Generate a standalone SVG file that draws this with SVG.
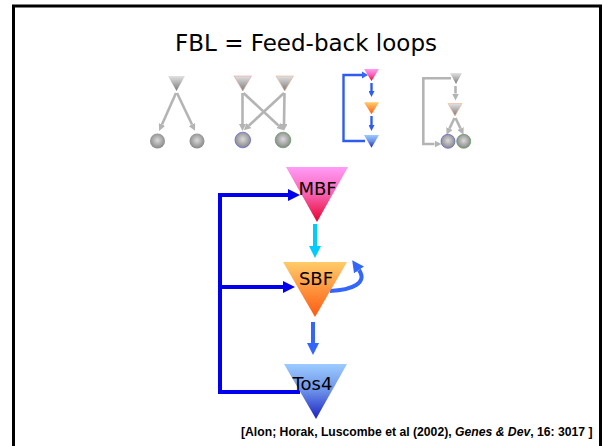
<svg xmlns="http://www.w3.org/2000/svg" width="602" height="446" viewBox="0 0 602 446">
  <style>
    .title { font-family: "DejaVu Sans", Verdana, sans-serif; font-size: 23px; fill: #000; }
    .lbl { font-family: "DejaVu Sans", Verdana, sans-serif; font-size: 18px; fill: #000; text-anchor: middle; }
    .cite { font-family: "Liberation Sans", Arial, sans-serif; font-size: 12.2px; font-weight: bold; fill: #000; }
    .gline { fill: none; stroke: #b4b4b4; stroke-width: 2.6; }
    .bline { fill: none; stroke: #2f5cf0; stroke-width: 2.4; }
    .frame { fill: none; stroke: #000; }
  </style>
  <defs>
    <linearGradient id="gGray" x1="0" y1="0" x2="0" y2="1">
      <stop offset="0" stop-color="#e2e2e2"/>
      <stop offset="1" stop-color="#7a7a7a"/>
    </linearGradient>
    <radialGradient id="gBall" cx="0.5" cy="0.45" r="0.55">
      <stop offset="0" stop-color="#dadada"/>
      <stop offset="1" stop-color="#868686"/>
    </radialGradient>
    <linearGradient id="gPink" x1="0" y1="0" x2="0" y2="1">
      <stop offset="0" stop-color="#ff9cf8"/>
      <stop offset="0.5" stop-color="#f860b0"/>
      <stop offset="1" stop-color="#e8002c"/>
    </linearGradient>
    <linearGradient id="gOrange" x1="0" y1="0" x2="0" y2="1">
      <stop offset="0" stop-color="#ffcc6a"/>
      <stop offset="1" stop-color="#ff5a10"/>
    </linearGradient>
    <linearGradient id="gBlue" x1="0" y1="0" x2="0" y2="1">
      <stop offset="0" stop-color="#9cccff"/>
      <stop offset="0.5" stop-color="#6a8ee8"/>
      <stop offset="1" stop-color="#1a22c0"/>
    </linearGradient>
    <marker id="hGray" viewBox="0 0 10 10" refX="0" refY="5" markerUnits="userSpaceOnUse" markerWidth="7" markerHeight="7" orient="auto">
      <path d="M0,0 L10,5 L0,10 z" fill="#b4b4b4"/>
    </marker>
    <marker id="hSmallBlue" viewBox="0 0 10 10" refX="0" refY="5" markerUnits="userSpaceOnUse" markerWidth="6" markerHeight="6" orient="auto">
      <path d="M0,0 L10,5 L0,10 z" fill="#2f5cf0"/>
    </marker>
    <marker id="hCyan" viewBox="0 0 10 10" refX="0" refY="5" markerUnits="userSpaceOnUse" markerWidth="12" markerHeight="12" orient="auto">
      <path d="M0,0 L10,5 L0,10 z" fill="#00ccff"/>
    </marker>
    <marker id="hMid" viewBox="0 0 10 10" refX="0" refY="5" markerUnits="userSpaceOnUse" markerWidth="12" markerHeight="12" orient="auto">
      <path d="M0,0 L10,5 L0,10 z" fill="#3366ff"/>
    </marker>
    <marker id="hDeep" viewBox="0 0 10 10" refX="0" refY="5" markerUnits="userSpaceOnUse" markerWidth="12" markerHeight="12" orient="auto">
      <path d="M0,0 L10,5 L0,10 z" fill="#0000ee"/>
    </marker>
  </defs>

  <!-- slide frame -->
  <path class="frame" d="M13.5,446 V6 H600.5 V446" stroke-width="3"/>

  <text class="title" x="175" y="51">FBL = Feed-back loops</text>

  <!-- small motif sketches -->
  <g id="motif-sim">
    <line class="gline" x1="176" y1="93" x2="162" y2="124.5" marker-end="url(#hGray)"/>
    <line class="gline" x1="177" y1="93" x2="192" y2="124.5" marker-end="url(#hGray)"/>
    <polygon points="168,76 185,76 176.5,91" fill="url(#gGray)"/>
    <circle cx="157.5" cy="141" r="7.5" fill="url(#gBall)"/>
    <circle cx="197" cy="141" r="7.5" fill="url(#gBall)"/>
  </g>

  <g id="motif-dor">
    <line class="gline" x1="242.5" y1="93" x2="242.5" y2="124" marker-end="url(#hGray)"/>
    <line class="gline" x1="284.5" y1="93" x2="284" y2="124" marker-end="url(#hGray)"/>
    <line class="gline" x1="243.5" y1="93" x2="278.5" y2="125.5" marker-end="url(#hGray)"/>
    <line class="gline" x1="284" y1="93" x2="249" y2="125.5" marker-end="url(#hGray)"/>
    <polygon points="234,76 251.5,76 242.8,91" fill="url(#gGray)" stroke="#e8a0a0" stroke-width="0.6"/>
    <polygon points="276,76 293.5,76 284.7,91" fill="url(#gGray)" stroke="#e8b090" stroke-width="0.6"/>
    <circle cx="242.8" cy="140" r="7.8" fill="url(#gBall)" stroke="#5a5ae0" stroke-width="0.7"/>
    <circle cx="283" cy="140" r="7.8" fill="url(#gBall)" stroke="#5a9a5a" stroke-width="0.7"/>
  </g>

  <g id="motif-fbl-color">
    <path class="bline" d="M365,141 H343.5 V75 H362" stroke="#3366ff" stroke-width="3"/>
    <path d="M362,71.5 L368,75 L362,78.5 z" fill="#3366ff"/>
    <line class="bline" x1="371.5" y1="83" x2="371.5" y2="91" marker-end="url(#hSmallBlue)"/>
    <line class="bline" x1="371.5" y1="116" x2="371.5" y2="125" marker-end="url(#hSmallBlue)"/>
    <polygon points="364,69 379,69 371.5,81" fill="url(#gPink)"/>
    <polygon points="364,102.3 379,102.3 371.5,114.3" fill="url(#gOrange)"/>
    <polygon points="364,135 379,135 371.5,147.7" fill="url(#gBlue)"/>
  </g>

  <g id="motif-fbl-gray">
    <path class="gline" d="M451,78.3 H423.3 V144 H434.5" marker-end="url(#hGray)"/>
    <line class="gline" x1="455.5" y1="86" x2="455.5" y2="93.5" marker-end="url(#hGray)"/>
    <line class="gline" x1="454.5" y1="118" x2="449.5" y2="128.5" marker-end="url(#hGray)"/>
    <line class="gline" x1="455.5" y1="118" x2="460.5" y2="128.5" marker-end="url(#hGray)"/>
    <polygon points="450,73 462,73 456,84" fill="url(#gGray)"/>
    <polygon points="448,103.5 462,103.5 455,116" fill="url(#gGray)" stroke="#f0b090" stroke-width="0.6"/>
    <circle cx="448" cy="141.3" r="7" fill="url(#gBall)" stroke="#5a5ae0" stroke-width="0.7"/>
    <circle cx="463.7" cy="141.3" r="7" fill="url(#gBall)" stroke="#5a9a5a" stroke-width="0.7"/>
  </g>

  <!-- main network: connectors -->
  <g id="connectors">
    <path d="M300,392 H220 V195 H288" fill="none" stroke="#0000ee" stroke-width="4" marker-end="url(#hDeep)"/>
    <path d="M220,287 H283" fill="none" stroke="#0000ee" stroke-width="4" marker-end="url(#hDeep)"/>
    <line x1="315" y1="224" x2="315" y2="246" stroke="#00ccff" stroke-width="4" marker-end="url(#hCyan)"/>
    <line x1="313" y1="322" x2="313" y2="343" stroke="#3366ff" stroke-width="4" marker-end="url(#hMid)"/>
    <path d="M330,291 C352,290 368,283 359,270" fill="none" stroke="#3366ff" stroke-width="4" marker-end="url(#hMid)"/>
  </g>

  <g id="node-mbf">
    <polygon points="286,167 348,167 317,222" fill="url(#gPink)"/>
    <text class="lbl" x="317.5" y="195">MBF</text>
  </g>
  <g id="node-sbf">
    <polygon points="283,262 347,262 315,317" fill="url(#gOrange)"/>
    <text class="lbl" x="316" y="285">SBF</text>
  </g>
  <g id="node-tos4">
    <polygon points="284,364 347,364 316,419" fill="url(#gBlue)"/>
    <text class="lbl" x="312.5" y="390">Tos4</text>
  </g>

  <text class="cite" x="241" y="436">[Alon; Horak, Luscombe et al (2002), <tspan font-style="italic">Genes &amp; Dev</tspan>, 16: 3017 ]</text>
</svg>
